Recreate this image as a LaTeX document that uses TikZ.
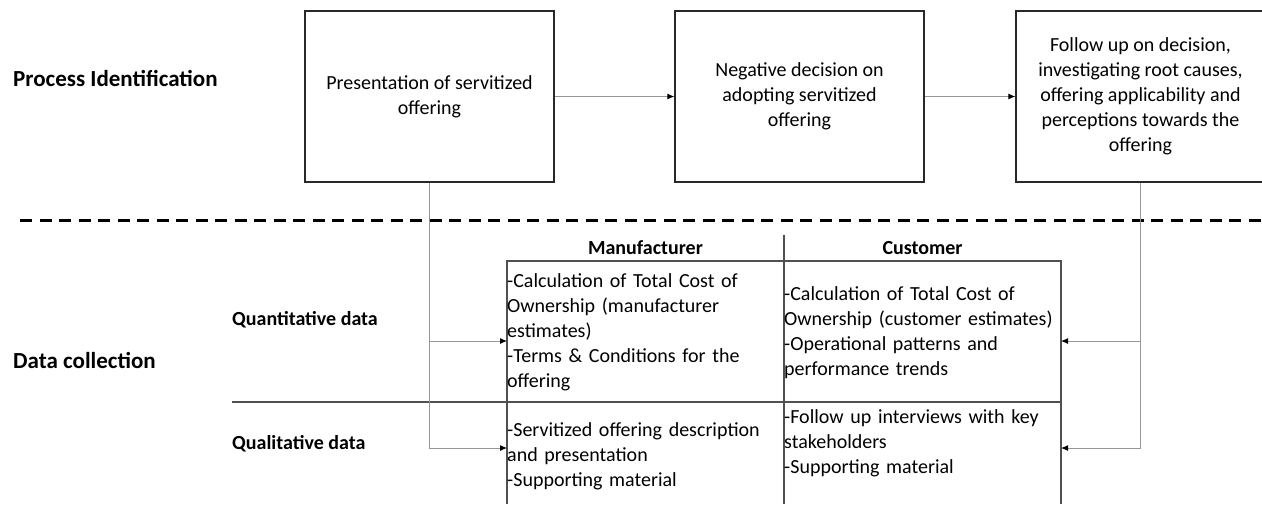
\documentclass[tikz,border=0pt]{standalone}
\usepackage{fontspec}
\setmainfont{Carlito}
\usetikzlibrary{arrows.meta}
\definecolor{boxline}{RGB}{40,40,40}
\definecolor{linkgray}{RGB}{150,150,150}
\definecolor{rulegray}{RGB}{80,80,80}

\begin{document}
\begin{tikzpicture}[x=1pt,y=-1pt,
  stage/.style={draw=boxline,line width=1.2pt,minimum width=249pt,minimum height=171pt,
    align=center,inner sep=0pt,font=\fontsize{20}{25}\selectfont},
  rowlabel/.style={anchor=west,inner sep=0pt,font=\fontsize{23}{28}\selectfont\bfseries},
  sublabel/.style={anchor=west,inner sep=0pt,font=\fontsize{20}{25}\selectfont\bfseries},
  colhead/.style={inner sep=0pt,font=\fontsize{20}{25}\selectfont\bfseries},
  cell/.style={anchor=base west,inner sep=0pt,text width=280pt,align=left,
    font=\fontsize{20}{25}\selectfont},
  link/.style={draw=linkgray,line width=1pt,-{Latex[length=7pt,width=6pt,color=black]}}]
\useasboundingbox (0,0) rectangle (1262,504);
\clip (0,0) rectangle (1262,504);

\node[rowlabel] (procid) at (13,78) {Process Identification};
\node[rowlabel] (datacol) at (13,360) {Data collection};

\node[stage] (present) at (429.5,96.5) {Presentation of servitized\\offering};
\node[stage] (negative) at (799.5,96.5) {Negative decision on\\adopting servitized\\offering};
\node[stage] (followup) at (1140.5,96.5) {Follow up on decision,\\investigating root causes,\\offering applicability and\\perceptions towards the\\offering};

\draw[link] (present) -- (negative);
\draw[link] (negative) -- (followup);

% separator between the two phases
\draw[line width=3pt,dash pattern=on 12pt off 7.5pt] (20,220) -- (1262,220);

% data table
\draw[rulegray,line width=1.2pt] (507,504) -- (507,261) -- (1061,261) -- (1061,504);
\draw[rulegray,line width=1.2pt] (784,235) -- (784,504);
\draw[rulegray,line width=1.2pt] (232,402) -- (1061,402);

\node[colhead] (manuf) at (645.5,248) {Manufacturer};
\node[colhead] (cust) at (922.5,248) {Customer};
\node[sublabel] (quant) at (232,320) {Quantitative data};
\node[sublabel] (qual) at (232,444) {Qualitative data};

\node[cell] (mquant) at (507,287) {-Calculation of Total Cost of\\Ownership (manufacturer\\estimates)\\-Terms \& Conditions for the\\offering};
\node[cell] (cquant) at (784,300) {-Calculation of Total Cost of\\Ownership (customer estimates)\\-Operational patterns and\\performance trends};
\node[cell] (mqual) at (507,436) {-Servitized offering description\\and presentation\\-Supporting material};
\node[cell] (cqual) at (784,423) {-Follow up interviews with key\\stakeholders\\-Supporting material};

\coordinate (mqin) at (507,341);
\coordinate (mlin) at (507,448);
\coordinate (cqin) at (1061,341);
\coordinate (clin) at (1061,448);
\draw[link] (present.south) |- (mqin);
\draw[link] (present.south) |- (mlin);
\draw[link] (followup.south) |- (cqin);
\draw[link] (followup.south) |- (clin);

\end{tikzpicture}
\end{document}
